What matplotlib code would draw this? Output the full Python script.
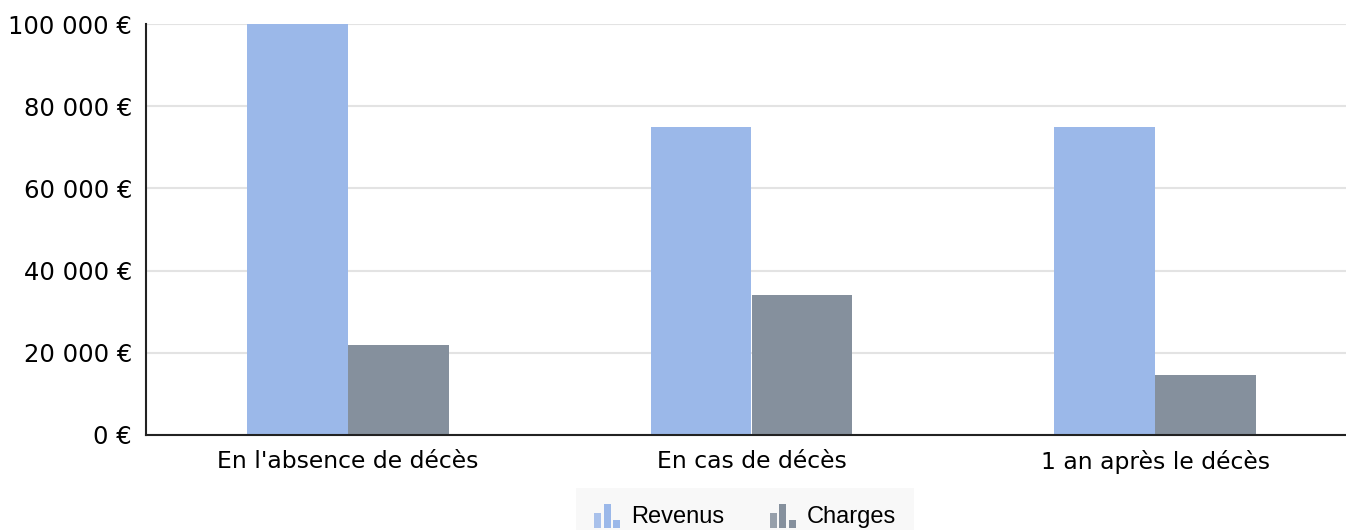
import matplotlib
matplotlib.use("Agg")
import matplotlib.pyplot as plt
import numpy as np
from matplotlib.legend_handler import HandlerBase
from matplotlib.patches import Rectangle

categories = ["En l'absence de décès", "En cas de décès", "1 an après le décès"]
revenus = [100000, 75000, 75000]
charges = [22000, 34000, 14600]
series_names = ["Revenus", "Charges"]
colors = ["#9bb8e9", "#85909d"]
yticks = [0, 20000, 40000, 60000, 80000, 100000]

W, H = 1346, 530
fig = plt.figure(figsize=(W / 100, H / 100), dpi=100)
ax = fig.add_axes([146 / W, (H - 435) / H, 1211 / W, 411 / H])

x = np.arange(len(categories))
bw = 0.25
ax.bar(x - bw / 2, revenus, bw, color=colors[0], label=series_names[0],
       linewidth=0, zorder=2)
ax.bar(x + bw / 2, charges, bw, color=colors[1], label=series_names[1],
       linewidth=0, zorder=2)

ax.set_xlim(-0.5, len(categories) - 0.5)
ax.set_ylim(0, 100000)
ax.set_yticks(yticks)
ax.set_yticklabels([f"{v:,}".replace(",", " ") + " €" for v in yticks],
                   fontsize=17.5, family="DejaVu Sans")
ax.set_xticks(x)
ax.set_xticklabels(categories, fontsize=16.9, family="DejaVu Sans")
ax.tick_params(axis="both", length=0, colors="#000000")
ax.tick_params(axis="y", pad=10)
ax.tick_params(axis="x", pad=11)
ax.grid(axis="y", color="#e3e3e3", linewidth=1.5, zorder=0)
ax.set_axisbelow(True)
for s in ["top", "right"]:
    ax.spines[s].set_visible(False)
for s in ["left", "bottom"]:
    ax.spines[s].set_color("#222222")
    ax.spines[s].set_linewidth(1.5)
    ax.spines[s].set_zorder(3)


class BarIconHandler(HandlerBase):
    def create_artists(self, legend, orig_handle, xdescent, ydescent,
                       width, height, fontsize, trans):
        col = orig_handle.get_facecolor()
        arts = []
        bwid = width * 0.27
        gap = (width - 3 * bwid) / 2
        hts = [0.64, 1.0, 0.32]
        for i, h in enumerate(hts):
            r = Rectangle((-xdescent + i * (bwid + gap), -ydescent - height * 0.14),
                          bwid, height * 1.2 * h, facecolor=col,
                          alpha=(0.85 if i == 0 else 1.0), edgecolor="none",
                          transform=trans)
            arts.append(r)
        return arts


proxies = [Rectangle((0, 0), 1, 1, facecolor=c) for c in colors]
leg = fig.legend(proxies, series_names, loc="center",
                 bbox_to_anchor=(745 / W, (H - 517) / H),
                 ncol=2, frameon=True, fancybox=False,
                 prop={"family": "Liberation Sans", "size": 17},
                 handler_map={p: BarIconHandler() for p in proxies},
                 handlelength=1.1, handleheight=0.9, handletextpad=0.45,
                 columnspacing=1.95, borderpad=0.75)
leg.get_frame().set_facecolor("#f7f7f7")
leg.get_frame().set_edgecolor("#f7f7f7")
leg.get_frame().set_linewidth(0)

fig.savefig("out.png", dpi=100)
